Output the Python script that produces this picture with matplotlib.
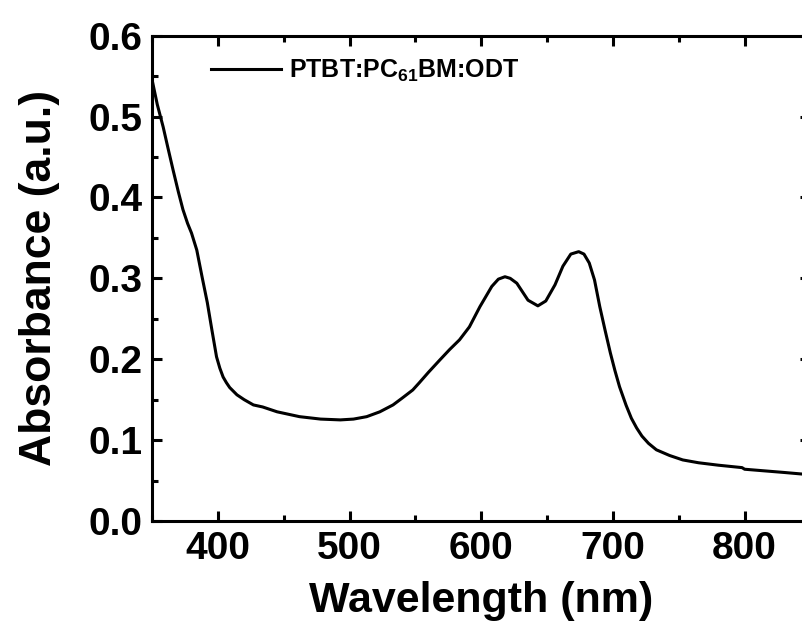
import numpy as np
import matplotlib.pyplot as plt
from matplotlib.ticker import MultipleLocator

# values
wavelength = [350, 354, 358.5, 362, 366, 370, 373.5, 377, 380, 384, 388,
              392, 395.5, 399, 401.5, 404, 406.5, 409, 414.5, 420, 427, 434,
              445, 462, 478, 493, 503, 513, 523, 533, 540, 548, 553, 560,
              568.5, 576, 583.5, 591, 599, 608, 613, 618, 622, 627, 635.5,
              643, 649, 656, 662, 668, 674, 678, 682, 686, 690, 694, 698,
              701.5, 705, 710, 714, 718, 722, 727, 733, 743, 753, 765, 780,
              798, 800, 815, 830, 844]
absorbance = [0.546, 0.515, 0.487, 0.462, 0.434, 0.407, 0.385, 0.368, 0.356,
              0.335, 0.302, 0.270, 0.236, 0.203, 0.189, 0.178, 0.171, 0.165,
              0.156, 0.150, 0.1435, 0.141, 0.135, 0.129, 0.126, 0.125, 0.126,
              0.129, 0.135, 0.1435, 0.152, 0.162, 0.171, 0.184, 0.199, 0.212,
              0.224, 0.240, 0.265, 0.290, 0.299, 0.302, 0.300, 0.294, 0.273,
              0.266, 0.272, 0.292, 0.315, 0.330, 0.333, 0.330, 0.319, 0.298,
              0.265, 0.236, 0.208, 0.186, 0.166, 0.143, 0.127, 0.115, 0.105,
              0.096, 0.088, 0.081, 0.0755, 0.072, 0.069, 0.066, 0.064, 0.062,
              0.060, 0.058]
label = 'PTBT:PC$_{61}$BM:ODT'

plt.rcParams['font.family'] = ['Liberation Sans', 'DejaVu Sans']
plt.rcParams['font.weight'] = 'bold'
plt.rcParams['mathtext.fontset'] = 'custom'
plt.rcParams['mathtext.rm'] = 'Liberation Sans:bold'
plt.rcParams['mathtext.it'] = 'Liberation Sans:bold'
plt.rcParams['mathtext.bf'] = 'Liberation Sans:bold'

fig = plt.figure(figsize=(8.03, 6.26), dpi=100)
ax = fig.add_axes([152/803, 105/626, 658.5/803, 485.3/626])

ax.plot(wavelength, absorbance, color='k', lw=2.2, label=label)

ax.set_xlim(350, 850)
ax.set_ylim(0, 0.6)
ax.xaxis.set_major_locator(MultipleLocator(100))
ax.xaxis.set_minor_locator(MultipleLocator(50))
ax.yaxis.set_major_locator(MultipleLocator(0.1))
ax.yaxis.set_minor_locator(MultipleLocator(0.05))
ax.tick_params(which='both', direction='in', top=True, right=True, width=2.2,
               labelsize=28, pad=7)
ax.tick_params(which='major', length=7)
ax.tick_params(which='minor', length=4)
ax.xaxis.set_major_formatter(plt.FuncFormatter(lambda v, p: f'{v:.0f}'))
ax.yaxis.set_major_formatter(plt.FuncFormatter(lambda v, p: f'{v:.1f}'))
for s in ax.spines.values():
    s.set_linewidth(2.2)

ax.set_xlabel('Wavelength (nm)', fontsize=31, fontweight='bold', labelpad=10)
ax.set_ylabel('Absorbance (a.u.)', fontsize=32, fontweight='bold', labelpad=20)

ax.legend(loc='upper left', bbox_to_anchor=(0.056, 1.0), frameon=False,
          fontsize=18, handlelength=2.8, handletextpad=0.3)

fig.savefig('out.png', dpi=100)
